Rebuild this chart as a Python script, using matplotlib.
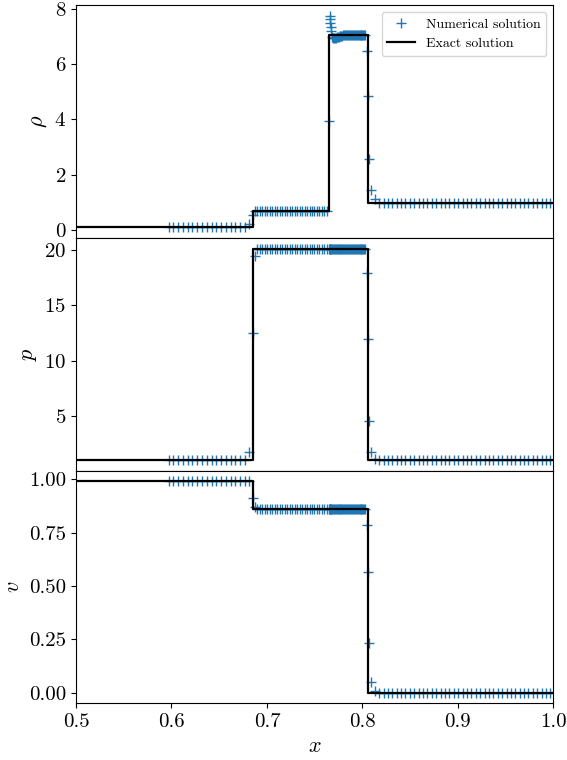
import matplotlib
matplotlib.use("Agg")
import matplotlib.pyplot as plt

plt.rcParams.update({
    "font.family": "serif",
    "font.serif": ["cmr10"],
    "mathtext.fontset": "cm",
    "axes.formatter.use_mathtext": True,
    "axes.unicode_minus": False,
})

# ---------------- exact Riemann solution (piecewise constant states) ----------------
exact_x = [0.5, 0.6851, 0.7653, 0.8054, 1.0]
exact_rho = [0.10, 0.70, 7.06, 1.00, 1.00]
exact_p = [1.00, 20.08, 20.08, 1.00, 1.00]
exact_v = [0.99, 0.858, 0.858, 0.00, 0.00]

# ---------------- numerical solution ----------------
# unshocked left state
x_left = [0.597, 0.602, 0.607, 0.612, 0.617, 0.622, 0.627, 0.632, 0.637,
          0.642, 0.647, 0.652, 0.657, 0.662, 0.667, 0.672, 0.677]
rho_left = [0.10] * len(x_left)
p_left = [1.00] * len(x_left)
v_left = [0.99] * len(x_left)

# left-going shock
x_ls = [0.6816, 0.6853, 0.6875]
rho_ls = [0.24, 0.54, 0.68]
p_ls = [1.77, 12.5, 19.5]
v_ls = [0.99, 0.914, 0.87]

# region between left shock and contact
x_mid = [0.6900, 0.6926, 0.6952, 0.6978, 0.7004, 0.7030, 0.7056, 0.7082,
         0.7108, 0.7134, 0.7160, 0.7186, 0.7212, 0.7238, 0.7264, 0.7290,
         0.7316, 0.7342, 0.7368, 0.7394, 0.7420, 0.7446, 0.7472, 0.7498,
         0.7524, 0.7550, 0.7576, 0.7602, 0.7628]
rho_mid = [0.70] * len(x_mid)
p_mid = [20.15] * len(x_mid)
v_mid = [0.858] * len(x_mid)

# contact discontinuity with overshoot
x_cd = [0.7653, 0.7656, 0.7660, 0.7664, 0.7668, 0.7672]
rho_cd = [3.96, 7.74, 7.62, 7.48, 7.35, 7.20]
p_cd = [20.15, 20.15, 20.15, 20.15, 20.15, 20.15]
v_cd = [0.858, 0.858, 0.858, 0.858, 0.858, 0.858]

# shocked right state
x_sh = [0.768, 0.769, 0.770, 0.771, 0.772, 0.773, 0.774, 0.775, 0.776,
        0.777, 0.778, 0.779, 0.780, 0.781, 0.782, 0.783, 0.784, 0.785,
        0.786, 0.787, 0.788, 0.789, 0.790, 0.791, 0.792, 0.793, 0.794,
        0.795, 0.796, 0.797, 0.798, 0.799, 0.800, 0.801, 0.802, 0.803]
rho_sh = [6.97, 6.95, 6.94, 6.94, 6.95, 6.96, 6.98, 6.99, 7.00,
          7.01, 7.02, 7.03, 7.04, 7.05, 7.05, 7.06, 7.06, 7.06,
          7.06, 7.06, 7.06, 7.06, 7.06, 7.06, 7.06, 7.06, 7.06,
          7.06, 7.06, 7.06, 7.06, 7.06, 7.06, 7.06, 7.06, 7.06]
p_sh = [20.15] * len(x_sh)
v_sh = [0.858] * len(x_sh)

# right-going shock
x_rs = [0.8045, 0.8055, 0.8065, 0.8090, 0.8130]
rho_rs = [6.49, 4.83, 2.57, 1.45, 1.11]
p_rs = [17.9, 12.0, 4.57, 1.77, 1.08]
v_rs = [0.783, 0.565, 0.234, 0.05, 0.01]

# unshocked right state
x_right = [0.8175, 0.8221, 0.8267, 0.8313, 0.8359, 0.8405, 0.8451, 0.8497,
           0.8543, 0.8589, 0.8635, 0.8681, 0.8727, 0.8773, 0.8819, 0.8865,
           0.8911, 0.8957, 0.9003, 0.9049, 0.9095, 0.9141, 0.9187, 0.9233,
           0.9279, 0.9325, 0.9371, 0.9417, 0.9463, 0.9509, 0.9555, 0.9601,
           0.9647, 0.9693, 0.9739, 0.9785, 0.9831, 0.9877, 0.9923, 0.9969]
rho_right = [1.00] * len(x_right)
p_right = [1.00] * len(x_right)
v_right = [0.00] * len(x_right)

x_num = x_left + x_ls + x_mid + x_cd + x_sh + x_rs + x_right
rho_num = rho_left + rho_ls + rho_mid + rho_cd + rho_sh + rho_rs + rho_right
p_num = p_left + p_ls + p_mid + p_cd + p_sh + p_rs + p_right
v_num = v_left + v_ls + v_mid + v_cd + v_sh + v_rs + v_right

# ---------------- figure ----------------
fig, axes = plt.subplots(3, 1, sharex=True, figsize=(5.67, 7.6), dpi=100)
fig.subplots_adjust(left=0.134, right=0.976, top=0.993, bottom=0.0745, hspace=0.0)

panels = [
    (axes[0], rho_num, exact_rho, r"$\rho$", [0, 2, 4, 6, 8], None),
    (axes[1], p_num, exact_p, r"$p$", [5, 10, 15, 20], None),
    (axes[2], v_num, exact_v, r"$v$", [0.0, 0.25, 0.5, 0.75, 1.0], "%.2f"),
]

for ax, num, exact, label, ticks, fmt in panels:
    ax.plot(x_num, num, "+", color="#1f77b4", markersize=6.5,
            label="Numerical solution")
    ax.step(exact_x, exact, where="post", color="black", linewidth=1.6,
            label="Exact solution")
    ax.set_ylabel(label, fontsize=16)
    ax.set_yticks(ticks)
    if fmt:
        ax.set_yticklabels([fmt % t for t in ticks])
    ax.tick_params(axis="both", labelsize=15)

axes[0].tick_params(axis="x", bottom=False)
axes[1].tick_params(axis="x", bottom=False)

axes[2].set_xlim(0.5, 1.0)
axes[2].set_xticks([0.5, 0.6, 0.7, 0.8, 0.9, 1.0])
axes[2].set_xticklabels(["0.5", "0.6", "0.7", "0.8", "0.9", "1.0"])
axes[2].set_xlabel(r"$x$", fontsize=16)

axes[0].legend(loc="upper right", fontsize=10)

fig.savefig("out.png", dpi=100)
